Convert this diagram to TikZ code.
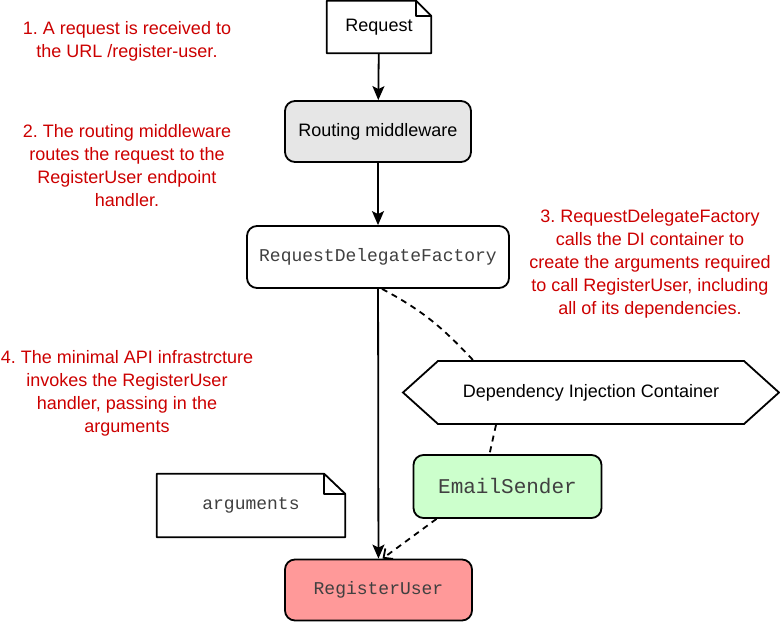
\documentclass[tikz,border=0pt]{standalone}
\usepackage{fontspec}
\setmainfont{Liberation Sans}
\setmonofont{Liberation Mono}
\frenchspacing
\usetikzlibrary{arrows.meta, shapes.symbols, positioning}
\definecolor{noteRed}{RGB}{204,0,0}
\definecolor{routeGray}{RGB}{230,230,230}
\definecolor{emailGreen}{RGB}{204,255,204}
\definecolor{regRed}{RGB}{255,153,153}
\tikzset{
    caja/.style={draw, line width=1.8pt, rounded corners=10pt, minimum height=62pt,
        font=\fontsize{18}{23}\selectfont},
    codigo/.style={font=\ttfamily\fontsize{18}{23}\selectfont, text=black!75},
    nota/.style={minimum height=52pt, font=\fontsize{18}{23}\selectfont},
    paso/.style={text=noteRed, align=center, font=\fontsize{18}{23}\selectfont},
    flujo/.style={line width=1.8pt, -{Stealth[length=14pt, width=12pt, inset=3pt]}},
    depende/.style={line width=1.8pt, dash pattern=on 6pt off 5pt},
}

\begin{document}
\begin{tikzpicture}[x=1pt, y=-1pt]
\useasboundingbox (0,0) rectangle (780,623);
% explanation texts
\node[paso] (paso1) at (127,41) {1. A request is received to\\the URL /register-user.};
\node[paso] (paso2) at (127,166) {2. The routing middleware\\routes the request to the\\RegisterUser endpoint\\handler.};
\node[paso] (paso3) at (650,264) {3. RequestDelegateFactory\\calls the DI container to\\create the arguments required\\to call RegisterUser, including\\all of its dependencies.};
\node[paso] (paso4) at (127,393) {4. The minimal API infrastrcture\\invokes the RegisterUser\\handler, passing in the\\arguments};
% boxes
\node[nota, minimum width=104pt] (req) at (379,27) {Request};
\node[caja, fill=routeGray, minimum width=186pt, minimum height=61pt] (route) at (378,131.5) {Routing middleware};
\node[caja, codigo, fill=white, minimum width=262pt] (rdf) at (378,257) {RequestDelegateFactory};
\node[draw, line width=1.8pt, fill=white, signal, signal to=west and east, signal pointer angle=84,
    minimum width=376pt, minimum height=63pt, font=\fontsize{18}{23}\selectfont] (di) at (591,392.5) {Dependency Injection Container};
\node[caja, codigo, fill=emailGreen, minimum width=188pt, minimum height=63pt,
    font=\ttfamily\fontsize{21}{25}\selectfont] (email) at (507.5,486.5) {EmailSender};
\node[nota, codigo, minimum width=188pt, minimum height=63pt] (args) at (251,505.5) {arguments};
\node[caja, codigo, fill=regRed, minimum width=187pt, minimum height=61pt] (reg) at (378.5,590) {RegisterUser};
% note outlines with folded corner
\draw[line width=1.8pt, line join=round] (req.north west) -- ([xshift=-15pt]req.north east)
    -- ([yshift=-15pt]req.north east) -- (req.south east) -- (req.south west) -- cycle;
\draw[line width=1.8pt, line join=round] ([xshift=-15pt]req.north east) -- ([xshift=-15pt, yshift=-15pt]req.north east)
    -- ([yshift=-15pt]req.north east);
\draw[line width=1.8pt, line join=round] (args.north west) -- ([xshift=-21pt]args.north east)
    -- ([yshift=-20pt]args.north east) -- (args.south east) -- (args.south west) -- cycle;
\draw[line width=1.8pt, line join=round] ([xshift=-21pt]args.north east) -- ([xshift=-21pt, yshift=-20pt]args.north east)
    -- ([yshift=-20pt]args.north east);
% connectors
\draw[flujo] (req) -- (route);
\draw[flujo] (route) -- (rdf);
\draw[flujo] (rdf) -- (reg);
\draw[depende] ([xshift=4pt]rdf.south) to[out=-28, in=133] ([xshift=-118pt]di.north);
\draw[depende] ([xshift=-95pt]di.south) -- ([xshift=-18pt]email.north);
\draw[depende, -{Straight Barb[length=7pt, width=13pt]}] ([xshift=-71pt]email.south) -- ([xshift=4pt]reg.north);
\end{tikzpicture}
\end{document}
